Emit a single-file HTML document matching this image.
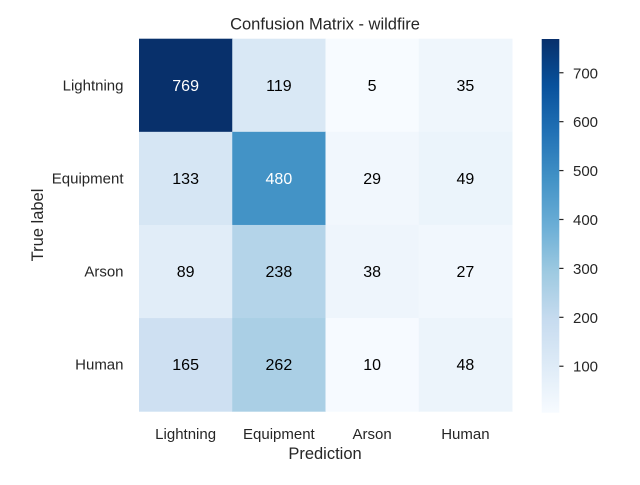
<!DOCTYPE html>
<html><head><meta charset="utf-8"><style>
body{margin:0;background:#fff;}
svg text{font-family:"Liberation Sans",sans-serif;fill:#262626;}
</style></head><body>
<svg id="c" width="640" height="480" viewBox="0 0 640 480">
<text x="325" y="29.5" font-size="16.5" text-anchor="middle">Confusion Matrix - wildfire</text>
<text x="325" y="459" font-size="16.5" text-anchor="middle">Prediction</text>
<text x="0" y="0" font-size="16.5" text-anchor="middle" transform="translate(43,225) rotate(-90)">True label</text>
<defs><linearGradient id="g" x1="0" y1="1" x2="0" y2="0">
<stop offset="0" stop-color="#f7fbff"/><stop offset="0.125" stop-color="#deebf7"/><stop offset="0.25" stop-color="#c6dbef"/><stop offset="0.375" stop-color="#9ecae1"/><stop offset="0.5" stop-color="#6baed6"/><stop offset="0.625" stop-color="#4292c6"/><stop offset="0.75" stop-color="#2171b5"/><stop offset="0.875" stop-color="#08519c"/><stop offset="1" stop-color="#08306b"/>
</linearGradient></defs>
<rect x="541.7" y="39" width="17.6" height="373.7" fill="url(#g)"/>
<g id="cells"></g><g id="cb"></g>
</svg>
<script>
const categories=["Lightning","Equipment","Arson","Human"];
const row0=[769,119,5,35];
const row1=[133,480,29,49];
const row2=[89,238,38,27];
const row3=[165,262,10,48];
const matrix=[row0,row1,row2,row3];
const cbTicks=[100,200,300,400,500,600,700];
const NS="http://www.w3.org/2000/svg";
const svg=document.getElementById('c');
const cells=document.getElementById('cells');
const cb=document.getElementById('cb');
const X0=139,Y0=38.7,W=373,H=372.5;
const n=categories.length,cw=W/n,ch=H/n;
const all=matrix.flat();
const vmin=Math.min(...all),vmax=Math.max(...all);
const stops=["#f7fbff","#deebf7","#c6dbef","#9ecae1","#6baed6","#4292c6","#2171b5","#08519c","#08306b"].map(h=>[1,3,5].map(i=>parseInt(h.substr(i,2),16)));
function color(v){let t=(v-vmin)/(vmax-vmin);t=Math.max(0,Math.min(1,t))*8;const i=Math.min(7,Math.floor(t)),f=t-i;const a=stops[i],b=stops[i+1];return `rgb(${a.map((x,k)=>Math.round(x+(b[k]-x)*f)).join(',')})`;}
function mk(tag,attrs,parent){const e=document.createElementNS(NS,tag);for(const k in attrs)e.setAttribute(k,attrs[k]);parent.appendChild(e);return e;}
const xs=i=>X0+i*cw, ys=j=>Y0+j*ch;
matrix.forEach((row,j)=>row.forEach((v,i)=>{
 const r=mk('rect',{x:xs(i),y:ys(j),width:cw+0.5,height:ch+0.5,fill:color(v)},cells);
 
 
 const t=mk('text',{x:xs(i)+cw/2,y:ys(j)+ch/2+5.5,'font-size':16,'text-anchor':'middle'},cells);
 t.style.fill=v>(vmax+vmin)/2?'#fff':'#000';
 t.textContent=v;
 
 
}));
categories.forEach((c,i)=>{
 const t=mk('text',{x:xs(i)+cw/2,y:439,'font-size':15,'text-anchor':'middle'},svg);
 t.textContent=c;
 
 
 const u=mk('text',{x:123.5,y:ys(i)+ch/2+5,'font-size':15,'text-anchor':'end'},svg);
 u.textContent=c;
 
 
});
const cbTop=39,cbBot=412.7;
const cy=v=>cbBot-(v-vmin)/(vmax-vmin)*(cbBot-cbTop);
cbTicks.forEach(v=>{
 const l=mk('line',{x1:559.3,x2:563.5,y1:cy(v),y2:cy(v),stroke:'#262626','stroke-width':1.2},cb);
 
 
 const t=mk('text',{x:573,y:cy(v)+5.5,'font-size':15},cb);
 t.textContent=v;
 
 
});
</script>
</body></html>
